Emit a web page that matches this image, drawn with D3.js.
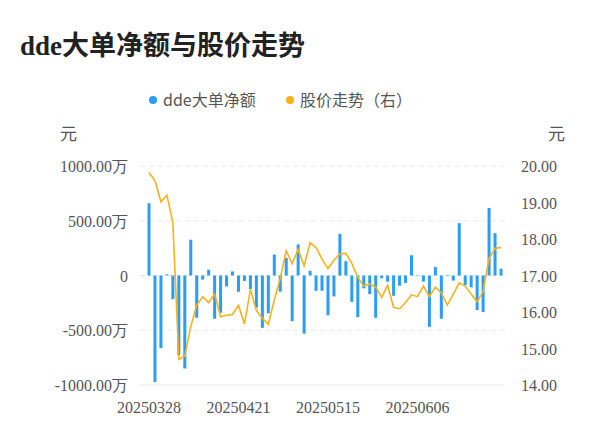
<!DOCTYPE html>
<html><head><meta charset="utf-8">
<script src="https://cdn.jsdelivr.net/npm/d3@7"></script>
<style>body{margin:0;background:#fff}</style></head>
<body><svg id="c" width="600" height="446"></svg>
<script>
const ddeValues=[660,-972,-664,10,-216,-725,-849,327,-386,-37,52,-395,-340,-99,37,-148,-49,-123,-293,-478,-346,191,-148,160,-417,284,-531,43,-139,-139,-364,-191,380,130,-241,-380,-117,-170,-386,-25,-56,-185,-93,-68,185,-5,-56,-469,77,-395,-5,-46,478,-86,-108,-315,-333,617,386,62];
const priceValues=[19.82,19.60,19.02,19.20,18.45,14.70,14.79,15.60,16.19,16.42,16.26,16.49,15.87,15.91,15.93,16.18,15.67,16.62,16.04,15.83,15.66,16.33,16.92,17.68,17.32,17.72,17.26,17.90,17.77,17.45,17.19,17.42,17.59,17.61,17.33,16.95,16.71,16.77,16.68,16.40,16.73,16.13,16.09,16.26,16.47,16.42,16.71,16.42,16.68,16.53,16.19,16.49,16.80,16.71,16.49,16.28,16.56,17.47,17.74,17.77];
const xTickLabels=["20250328","20250421","20250515","20250606"];
const xTickIndex=[0,15,30,45];
const leftTicks=[1000,500,0,-500,-1000];
const rightTicks=[20,19,18,17,16,15,14];

const svg=d3.select("#c");
const L=140,R=505,T=166,B=385;
const x=d3.scaleLinear().domain([0,59]).range([149,501]);
const yl=d3.scaleLinear().domain([-1000,1000]).range([B,T]);
const yr=d3.scaleLinear().domain([14,20]).range([B,T]);
const serif="'Liberation Serif','DejaVu Serif',serif";
const sans="'Noto Sans CJK SC','Noto Sans',sans-serif";

svg.append("text").attr("x",20).attr("y",55).attr("font-family","'Liberation Serif','Noto Sans CJK SC',serif").attr("font-weight","bold").attr("font-size",27).attr("fill","#222").text("dde大单净额与股价走势");

const lg=svg.append("g").attr("font-family",sans).attr("font-size",16).attr("fill","#555");
lg.append("circle").attr("cx",153).attr("cy",100).attr("r",4).attr("fill","#2a9df4");
lg.append("text").attr("x",163).attr("y",106).attr("fill","#555").text("dde大单净额");
lg.append("circle").attr("cx",290).attr("cy",100).attr("r",4).attr("fill","#f5b21b");
lg.append("text").attr("x",300).attr("y",106).attr("fill","#555").text("股价走势（右）");

svg.append("text").attr("x",60).attr("y",140).attr("font-family",sans).attr("font-size",17).attr("fill","#555").text("元");
svg.append("text").attr("x",548).attr("y",140).attr("font-family",sans).attr("font-size",17).attr("fill","#555").text("元");

leftTicks.forEach(v=>{
  svg.append("line").attr("x1",L).attr("x2",R).attr("y1",yl(v)).attr("y2",yl(v))
    .attr("stroke","#e8e8e8").attr("stroke-width",1).attr("stroke-dasharray",v===-1000?null:"5,4");
});
svg.append("g").selectAll("text").data(leftTicks).join("text")
 .attr("x",128).attr("y",d=>yl(d)+6).attr("text-anchor","end").attr("font-family",serif).attr("font-size",16).attr("fill","#555")
 .text(d=>d===0?"0":d.toFixed(2)+"万");
svg.append("g").selectAll("text").data(rightTicks).join("text")
 .attr("x",521).attr("y",d=>yr(d)+6).attr("font-family",serif).attr("font-size",16).attr("fill","#555")
 .text(d=>d.toFixed(2));
svg.append("g").selectAll("text").data(xTickIndex).join("text")
 .attr("x",d=>x(d)).attr("y",413).attr("text-anchor","middle").attr("font-family",serif).attr("font-size",16).attr("fill","#555")
 .text((d,i)=>xTickLabels[i]);

svg.append("g").selectAll("rect").data(ddeValues).join("rect")
 .attr("x",(d,i)=>x(i)-1.5).attr("width",3)
 .attr("y",d=>Math.min(yl(d),yl(0))).attr("height",d=>Math.abs(yl(d)-yl(0)))
 .attr("fill","#2a9df4");

svg.append("path").datum(priceValues)
 .attr("d",d3.line().x((d,i)=>x(i)).y(d=>yr(d)))
 .attr("fill","none").attr("stroke","#f5b21b").attr("stroke-width",1.6);
</script></body></html>
